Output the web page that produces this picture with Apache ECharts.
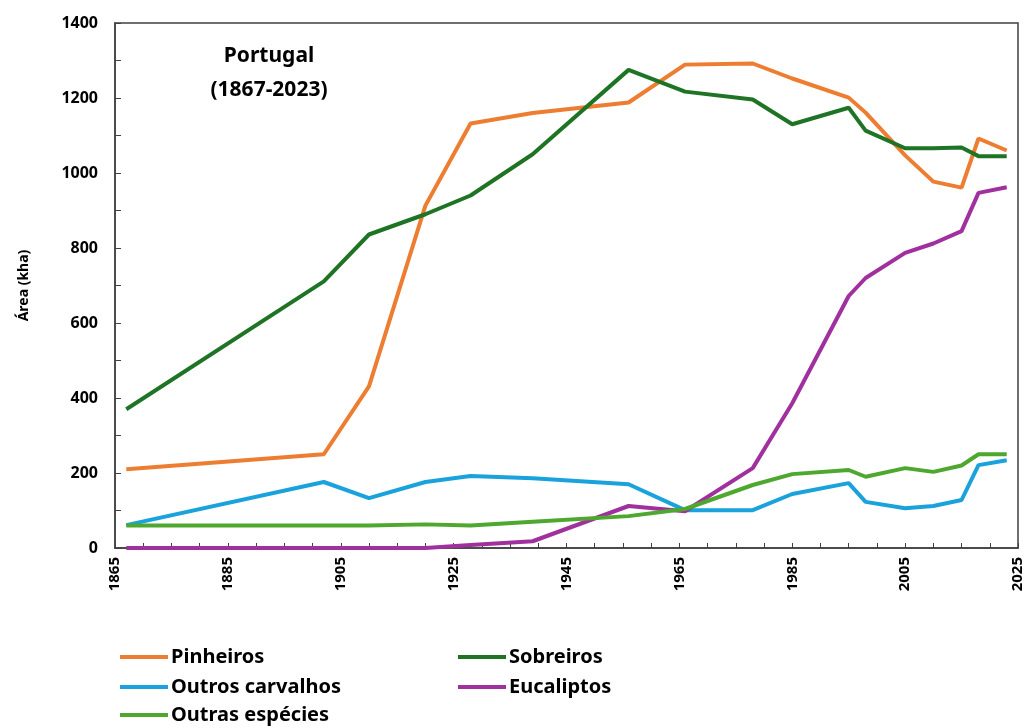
<!DOCTYPE html>
<html>
<head>
<meta charset="utf-8">
<script src="https://cdn.jsdelivr.net/npm/echarts@6/dist/echarts.min.js"></script>
<style>html,body{margin:0;padding:0;background:#fff}#c{width:1031px;height:728px}</style>
</head>
<body>
<div id="c"></div>
<script>
const years = [1867, 1902, 1910, 1920, 1928, 1939, 1956, 1966, 1978, 1985, 1995, 1998, 2005, 2010, 2015, 2018, 2023];
const pinheiros = [210, 250, 431, 913, 1132, 1160, 1188, 1289, 1292, 1252, 1201, 1161, 1047, 977, 961, 1092, 1060];
const sobreiros = [370, 711, 836, 890, 940, 1050, 1275, 1217, 1196, 1130, 1174, 1113, 1066, 1066, 1068, 1045, 1045];
const outrosCarvalhos = [61, 176, 133, 176, 192, 186, 170, 101, 101, 144, 173, 123, 106, 112, 128, 221, 234];
const eucaliptos = [0, 0, 0, 0, 8, 18, 112, 98, 213, 386, 672, 720, 787, 812, 845, 947, 962];
const outrasEspecies = [60, 60, 60, 63, 60, 70, 85, 104, 168, 197, 208, 190, 213, 203, 220, 250, 250];
const xTicks = [1865, 1885, 1905, 1925, 1945, 1965, 1985, 2005, 2025];
const yTicks = [0, 200, 400, 600, 800, 1000, 1200, 1400];

const names = ['Pinheiros', 'Sobreiros', 'Outros carvalhos', 'Eucaliptos', 'Outras espécies'];
const colors = ['#ED7D31', '#1E7324', '#1AA2DC', '#A0309E', '#4EA72E'];
const values = [pinheiros, sobreiros, outrosCarvalhos, eucaliptos, outrasEspecies];

const font = 'Noto Sans, Liberation Sans, sans-serif';
const chart = echarts.init(document.getElementById('c'), null, {renderer: 'canvas'});

const legendPos = [[120, 647], [458, 647], [120, 677], [458, 677], [120, 705]];
const legends = names.map((n, i) => ({
  data: [n], left: legendPos[i][0], top: legendPos[i][1],
  icon: 'rect', itemWidth: 48, itemHeight: 4, itemGap: 0,
  padding: 0,
  textStyle: {fontFamily: font, fontWeight: 'bold', fontSize: 20, color: '#000', padding: [0, 0, 0, -2]}
}));

chart.setOption({
  animation: false,
  backgroundColor: '#fff',
  title: {
    text: 'Portugal\n(1867-2023)', left: 264, top: 34, textAlign: 'center',
    textStyle: {fontFamily: font, fontWeight: 'bold', fontSize: 21, color: '#000', lineHeight: 34}
  },
  legend: legends,
  grid: {left: 115, right: 13, top: 23, bottom: 180, show: true, borderColor: '#404040', borderWidth: 1.5, backgroundColor: 'transparent'},
  xAxis: {
    type: 'value', min: 1865, max: 2025, interval: 5,
    axisLine: {show: true, onZero: false, lineStyle: {color: '#404040', width: 1.5}},
    axisTick: {show: true, inside: true, length: 5, lineStyle: {color: '#404040'}},
    splitLine: {show: false},
    axisLabel: {rotate: 90, margin: 9, fontFamily: font, fontWeight: 'bold', fontSize: 15, color: '#000',
      formatter: v => xTicks.includes(v) ? String(v) : ''}
  },
  yAxis: {
    type: 'value', min: 0, max: 1400, interval: 100,
    name: 'Área (kha)', nameLocation: 'middle', nameGap: 84,
    nameTextStyle: {fontFamily: font, fontWeight: 'bold', fontSize: 14, color: '#000'},
    axisLine: {show: true, lineStyle: {color: '#404040', width: 1.5}},
    axisTick: {show: true, inside: true, length: 6, lineStyle: {color: '#404040'}},
    splitLine: {show: false},
    axisLabel: {margin: 17, fontFamily: font, fontWeight: 'bold', fontSize: 16, color: '#000',
      formatter: v => (yTicks.includes(v) ? String(v) : '')}
  },
  series: names.map((n, i) => ({
    name: n, type: 'line', showSymbol: false, symbol: 'none',
    data: years.map((y, k) => [y, values[i][k]]),
    lineStyle: {color: colors[i], width: 4},
    itemStyle: {color: colors[i]},
    z: [2, 3, 2, 2, 2][i]
  }))
});
</script>
</body>
</html>
